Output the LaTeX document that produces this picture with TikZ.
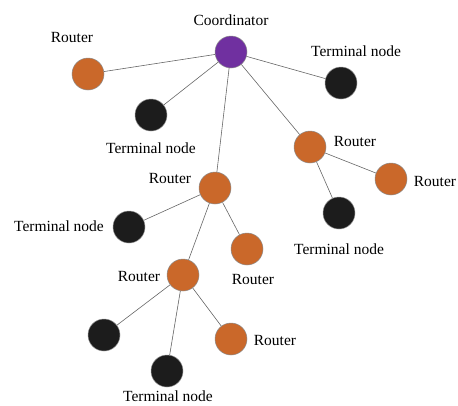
\documentclass[tikz,border=0pt]{standalone}
\usepackage{fontspec}
\setmainfont{Liberation Serif}
\usepackage{tikz}
\usetikzlibrary{positioning}
\definecolor{routerorange}{RGB}{202,104,42}
\definecolor{coordpurple}{RGB}{112,48,160}
\definecolor{termblack}{RGB}{28,28,28}
\tikzset{
  dev/.style={circle, minimum size=32pt, inner sep=0pt, draw=black!45, line width=0.5pt},
  router/.style={dev, fill=routerorange},
  coordnode/.style={dev, fill=coordpurple},
  terminal/.style={dev, fill=termblack},
  tag/.style={font=\fontsize{15.5}{18}\selectfont, inner sep=1pt},
  link/.style={draw=black!60, line width=0.6pt},
}
\begin{document}
\begin{tikzpicture}[x=1pt,y=-1pt]
\useasboundingbox (0,0) rectangle (458,405);
% devices
\node[coordnode] (coord) at (231,52) {};
\node[router] (rtL) at (88,74) {};
\node[terminal] (tmA) at (151,115) {};
\node[terminal] (tmB) at (341,83) {};
\node[router] (rtR) at (310,147) {};
\node[router] (rtFR) at (391,179) {};
\node[terminal] (tmR) at (339,213) {};
\node[router] (rtM) at (215,188) {};
\node[terminal] (tmL) at (129,227) {};
\node[router] (rtS) at (247,249) {};
\node[router] (rtLow) at (183,275) {};
\node[terminal] (tmLL) at (104,335) {};
\node[terminal] (tmBot) at (167,371) {};
\node[router] (rtLR) at (231,339) {};
% labels
\node[tag] (lcoord) at (231,20) {Coordinator};
\node[tag] (lrtL) at (72,37) {Router};
\node[tag] (ltmA) at (151,148) {Terminal node};
\node[tag] (ltmB) at (356,51) {Terminal node};
\node[tag] (lrtR) at (355,141) {Router};
\node[tag] (lrtFR) at (435,181) {Router};
\node[tag] (ltmR) at (339,249) {Terminal node};
\node[tag] (lrtM) at (170,178) {Router};
\node[tag] (ltmL) at (59,226) {Terminal node};
\node[tag] (lrtS) at (253,279) {Router};
\node[tag] (lrtLow) at (139,276) {Router};
\node[tag] (ltmBot) at (168,396) {Terminal node};
\node[tag] (lrtLR) at (275,340) {Router};
% links
\draw[link] (coord) -- (rtL);
\draw[link] (coord) -- (tmA);
\draw[link] (coord) -- (tmB);
\draw[link] (coord) -- (rtR);
\draw[link] (coord) -- (rtM);
\draw[link] (rtR) -- (rtFR);
\draw[link] (rtR) -- (tmR);
\draw[link] (rtM) -- (tmL);
\draw[link] (rtM) -- (rtS);
\draw[link] (rtM) -- (rtLow);
\draw[link] (rtLow) -- (tmLL);
\draw[link] (rtLow) -- (tmBot);
\draw[link] (rtLow) -- (rtLR);
\end{tikzpicture}
\end{document}
